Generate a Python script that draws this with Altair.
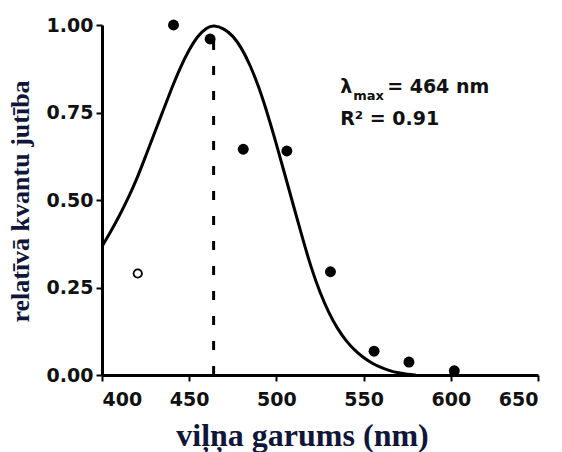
import altair as alt
import pandas as pd

# measured points (filled)
pt_x = [441, 462, 481, 506, 531, 556, 576, 602]
pt_y = [1.00, 0.96, 0.645, 0.64, 0.295, 0.068, 0.037, 0.012]
# excluded point (open)
open_x = [420.5]
open_y = [0.29]
# fitted template curve
curve_x = [400, 405, 410, 415, 420, 425, 430, 435, 440, 445, 450, 455, 460, 464,
           470, 475, 480, 485, 490, 495, 500, 505, 510, 515, 520, 525, 530, 535,
           540, 545, 550, 555, 560, 565, 570, 575, 580]
curve_y = [0.367, 0.41, 0.455, 0.505, 0.56, 0.625, 0.69, 0.755, 0.82, 0.88, 0.93, 0.97, 0.993, 1.0,
           0.99, 0.97, 0.935, 0.885, 0.822, 0.745, 0.66, 0.57, 0.48, 0.39, 0.305, 0.235, 0.178, 0.132,
           0.097, 0.07, 0.049, 0.033, 0.021, 0.012, 0.006, 0.002, 0.0]
lambda_max = [464]
lambda_top = [0.97]

x_ticks = [400, 450, 500, 550, 600, 650]
y_ticks = [0, 0.25, 0.5, 0.75, 1.0]

xs = alt.Scale(domain=[400, 650], nice=False, zero=False)
ys = alt.Scale(domain=[0, 1], nice=False)

lab_font = "DejaVu Sans"
title_col = "#10163a"

x_axis = alt.Axis(values=x_ticks, title="viļņa garums (nm)", grid=False,
                  domainColor="black", domainWidth=3, tickColor="black", tickWidth=2, tickSize=6,
                  labelFont=lab_font, labelFontSize=19, labelFontWeight="bold", labelColor="#111111",
                  labelPadding=9,
                  titleFont="Liberation Serif", titleFontSize=32, titleFontWeight="bold", titleColor=title_col,
                  titleX=200, titleY=70, titleBaseline="alphabetic", titleAlign="center")
y_axis = alt.Axis(values=y_ticks, format=".2f", title="relatīvā kvantu jutība", grid=False,
                  domainColor="black", domainWidth=3, tickColor="black", tickWidth=2, tickSize=6,
                  labelFont=lab_font, labelFontSize=19, labelFontWeight="bold", labelColor="#111111",
                  labelPadding=3,
                  titleFont="Liberation Serif", titleFontSize=26, titleFontWeight="bold", titleColor=title_col,
                  titleX=-74, titleY=176, titleAngle=270, titleBaseline="alphabetic", titleAlign="center")

curve_df = pd.DataFrame({"x": curve_x, "y": curve_y})
pts_df = pd.DataFrame({"x": pt_x, "y": pt_y})
open_df = pd.DataFrame({"x": open_x, "y": open_y})
rule_df = pd.DataFrame({"x": lambda_max, "y": [0], "y2": lambda_top})

curve = alt.Chart(curve_df).mark_line(color="black", strokeWidth=3, interpolate="basis").encode(
    x=alt.X("x:Q", scale=xs, axis=x_axis),
    y=alt.Y("y:Q", scale=ys, axis=y_axis),
)
rule = alt.Chart(rule_df).mark_rule(color="black", strokeWidth=3, strokeDash=[9, 16]).encode(
    x=alt.X("x:Q", scale=xs), y=alt.Y("y:Q", scale=ys), y2="y2:Q"
)
pts = alt.Chart(pts_df).mark_point(filled=True, color="black", size=120, opacity=1).encode(
    x=alt.X("x:Q", scale=xs), y=alt.Y("y:Q", scale=ys)
)
opn = alt.Chart(open_df).mark_point(filled=False, color="black", size=70, strokeWidth=1.8, opacity=1).encode(
    x=alt.X("x:Q", scale=xs), y=alt.Y("y:Q", scale=ys)
)

ann_df = pd.DataFrame({
    "x": [536.6, 544.0, 563.5, 536.6],
    "y": [0.806, 0.786, 0.806, 0.714],
    "t": ["λ", "max", "= 464 nm", "R² = 0.91"],
    "s": [19, 13, 19, 19],
})
ann_big = alt.Chart(ann_df[ann_df.s == 19]).mark_text(
    align="left", baseline="alphabetic", font=lab_font, fontSize=19, fontWeight="bold", color="#111111"
).encode(x=alt.X("x:Q", scale=xs), y=alt.Y("y:Q", scale=ys), text="t:N")
ann_small = alt.Chart(ann_df[ann_df.s == 13]).mark_text(
    align="left", baseline="alphabetic", font=lab_font, fontSize=13, fontWeight="bold", color="#111111"
).encode(x=alt.X("x:Q", scale=xs), y=alt.Y("y:Q", scale=ys), text="t:N")

chart = alt.layer(curve, rule, pts, opn, ann_big, ann_small).properties(
    width=436, height=350,
    autosize=alt.AutoSizeParams(type="none"),
    padding={"left": 102, "top": 25, "right": 24, "bottom": 77},
    background="white",
).configure_view(stroke=None)

chart.save("out.html", embed_options={"renderer": "svg", "actions": False})
